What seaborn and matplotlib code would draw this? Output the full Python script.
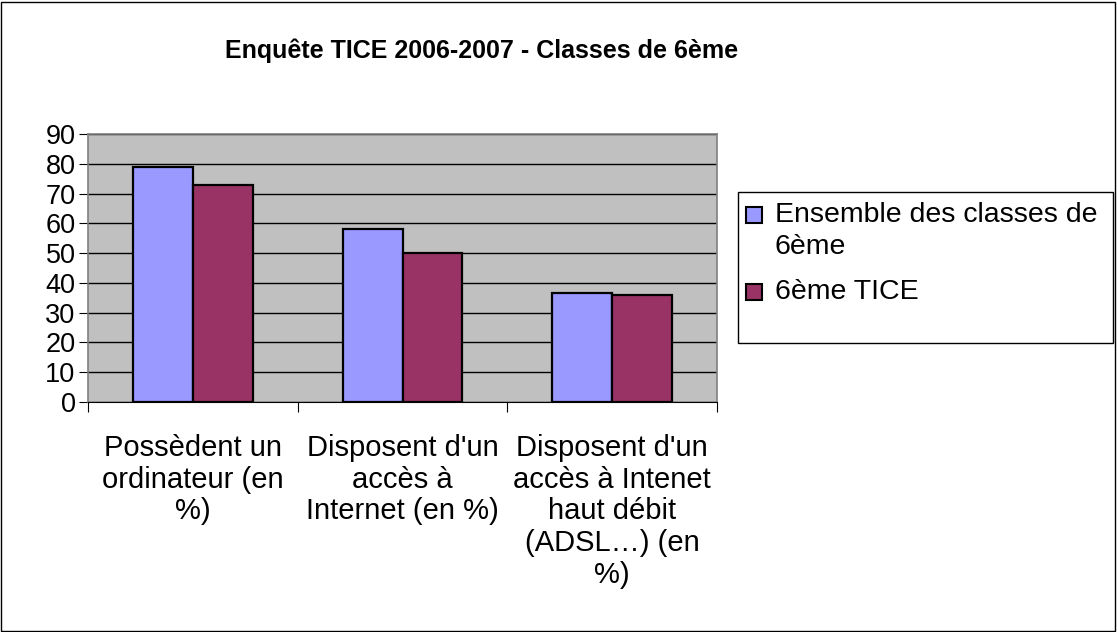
import matplotlib
matplotlib.use("Agg")
import matplotlib.pyplot as plt
import seaborn as sns
import pandas as pd
from matplotlib.patches import Rectangle

# data
categories = ["Possèdent un\nordinateur (en\n%)",
              "Disposent d'un\naccès à\nInternet (en %)",
              "Disposent d'un\naccès à Intenet\nhaut débit\n(ADSL…) (en\n%)"]
series_names = ["Ensemble des classes de\n6ème", "6ème TICE"]
ensemble = [79, 58, 36.5]
tice = [73, 50, 36]
colors = ["#9999FF", "#993366"]

df = pd.DataFrame({
    "cat": categories * 2,
    "serie": [series_names[0]] * 3 + [series_names[1]] * 3,
    "val": ensemble + tice,
})

sns.set_style("white")
plt.rcParams['font.family'] = ['Liberation Sans', 'DejaVu Sans']
plt.rcParams['text.color'] = 'black'
plt.rcParams['xtick.color'] = 'black'
plt.rcParams['ytick.color'] = 'black'

W, H = 1117, 632
fig = plt.figure(figsize=(W / 100, H / 100), dpi=100)
# plot area in pixels: x 88..717, y 134..402
ax = fig.add_axes([88 / W, 1 - 402 / H, (717 - 88) / W, (402 - 134) / H])
ax.set_facecolor("#C0C0C0")
ax.set_axisbelow(True)

sns.barplot(data=df, x="cat", y="val", hue="serie", palette=colors, saturation=1,
            width=0.57, edgecolor="black", linewidth=1.6, ax=ax, legend=False)

ax.set_ylim(0, 90)
ax.set_xlim(-0.5, 2.5)
ax.set_yticks(range(0, 91, 10))
ax.yaxis.grid(True, color="black", linewidth=1)
ax.set_xlabel("")
ax.set_ylabel("")

for side in ["top", "right", "left"]:
    ax.spines[side].set_color("#808080")
    ax.spines[side].set_linewidth(1.2)
ax.spines["bottom"].set_color("black")

ax.tick_params(axis="y", which="major", direction="out", length=6.5, width=0.8,
               color="black", labelsize=19.5, pad=2.5, left=True)
ax.set_xticks([-0.5, 0.5, 1.5, 2.5], minor=True)
ax.tick_params(axis="x", which="minor", direction="out", length=7, width=0.8,
               color="black", bottom=True)
ax.tick_params(axis="x", which="major", length=0, labelsize=21, pad=23)
for lab in ax.get_xticklabels():
    lab.set_horizontalalignment("center")
    lab.set_linespacing(1.17)

fig.text(482 / W, 1 - 51 / H, "Enquête TICE 2006-2007 - Classes de 6ème",
         ha="center", va="center", fontsize=18, fontweight="bold")

# legend box, drawn by hand to keep the Excel look (square beside first line)
fig.patches.append(Rectangle((738 / W, 1 - 343 / H), (1113 - 738) / W, (343 - 192) / H,
                             transform=fig.transFigure, facecolor="white",
                             edgecolor="black", linewidth=1))
entry_top = [215, 292]
for name, c, y0 in zip(series_names, colors, entry_top):
    fig.patches.append(Rectangle((746 / W, 1 - (y0 + 8) / H), 16 / W, 16 / H,
                                 transform=fig.transFigure, facecolor=c,
                                 edgecolor="black", linewidth=1.5))
    for i, line in enumerate(name.split("\n")):
        fig.text(775 / W, 1 - (y0 + i * 32) / H, line, ha="left", va="center",
                 fontsize=20.5)

# outer border
fig.patches.append(Rectangle((1 / W, 1 / H), (W - 3) / W, (H - 3) / H,
                             transform=fig.transFigure, fill=False,
                             edgecolor="black", linewidth=1))

fig.savefig("out.png", dpi=100)
